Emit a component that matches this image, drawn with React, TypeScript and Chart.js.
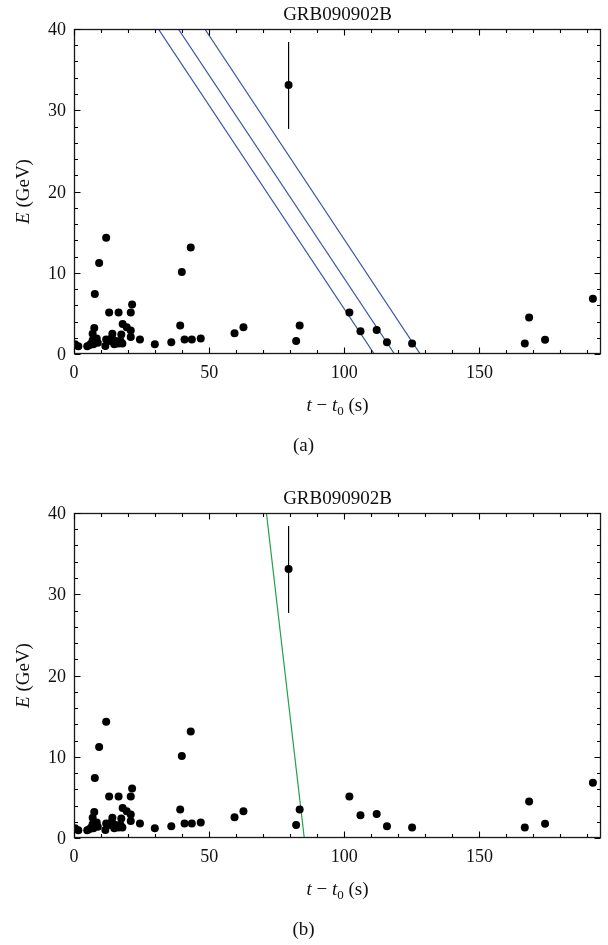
import React, { useEffect, useRef } from "react";
import { Chart, registerables } from "chart.js";
Chart.register(...registerables);

const TITLE = "GRB090902B";

// photon arrival times (s) and energies (GeV)
const photonTimes = [
  0.4, 1.6, 4.9, 5.8, 6.4, 6.9, 6.9, 7.5, 7.7, 7.2, 8.0, 8.4, 8.8, 9.3,
  11.6, 11.9, 11.9, 13.0, 13.5, 14.0, 14.2, 14.9, 15.5, 16.5, 16.5, 17.2,
  17.5, 17.9, 18.0, 19.5, 21.0, 21.0, 21.0, 21.5, 24.4, 29.9, 36.0, 39.3,
  39.9, 40.9, 43.2, 43.6, 46.9, 59.4, 62.7, 79.4, 82.2, 83.5, 101.9, 106.0,
  112.0, 115.8, 125.1, 166.8, 168.4, 174.3, 192.0,
];
const photonEnergies = [
  1.2, 0.95, 0.95, 1.1, 1.3, 1.7, 2.5, 3.2, 7.4, 1.2, 1.5, 1.9, 1.4, 11.2,
  1.0, 14.3, 1.8, 5.1, 1.6, 2.0, 2.5, 1.2, 1.6, 5.1, 1.3, 1.6, 2.4, 1.3, 3.7,
  3.3, 2.9, 2.1, 5.1, 6.1, 1.8, 1.2, 1.45, 3.5, 10.1, 1.8, 13.1, 1.8, 1.9,
  2.55, 3.3, 33.1, 1.6, 3.5, 5.1, 2.8, 2.95, 1.45, 1.3, 1.3, 4.5, 1.75, 6.8,
];

// error bar on the highest-energy photon
const errTimes = [79.4];
const errLow = [27.7];
const errHigh = [38.4];

// panel (a) lines
const lineA1Times = [31.2, 111.1];
const lineA2Times = [38.6, 118.6];
const lineA3Times = [48.4, 128.1];
const lineEnergies = [40, 0];
// panel (b) line
const lineBTimes = [71.2, 85.2];

const xTicks = [0, 50, 100, 150];
const xMinorTicks = [10, 20, 30, 40, 60, 70, 80, 90, 110, 120, 130, 140, 160, 170, 180, 190];
const yTicks = [0, 10, 20, 30, 40];
const yMinorTicks = [2, 4, 6, 8, 12, 14, 16, 18, 22, 24, 26, 28, 32, 34, 36, 38];

const X_MIN = 0;
const X_MAX = 195;
const Y_MIN = 0;
const Y_MAX = 40;

const SERIF = '"Liberation Serif", "DejaVu Serif", serif';
const BLUE = "#3553a8";
const GREEN = "#23a04a";

type Seg = { text: string; font: string; dy?: number };

function drawSegs(ctx: CanvasRenderingContext2D, segs: Seg[], cx: number, y: number) {
  let total = 0;
  const widths: number[] = [];
  for (const s of segs) {
    ctx.font = s.font;
    const w = ctx.measureText(s.text).width;
    widths.push(w);
    total += w;
  }
  let x = cx - total / 2;
  ctx.textAlign = "left";
  ctx.textBaseline = "alphabetic";
  segs.forEach((s, i) => {
    ctx.font = s.font;
    ctx.fillText(s.text, x, y + (s.dy || 0));
    x += widths[i];
  });
}

function makePlugin(caption: string) {
  return {
    id: "frameAndText" + caption,
    beforeDatasetsDraw(chart: any) {
      const ctx: CanvasRenderingContext2D = chart.ctx;
      const xs = chart.scales.x;
      const ys = chart.scales.y;
      ctx.save();
      ctx.strokeStyle = "#000";
      ctx.lineWidth = 1.2;
      errTimes.forEach((t, i) => {
        const px = xs.getPixelForValue(t);
        ctx.beginPath();
        ctx.moveTo(px, ys.getPixelForValue(errLow[i]));
        ctx.lineTo(px, ys.getPixelForValue(errHigh[i]));
        ctx.stroke();
      });
      ctx.restore();
    },
    afterDraw(chart: any) {
      const ctx: CanvasRenderingContext2D = chart.ctx;
      const xs = chart.scales.x;
      const ys = chart.scales.y;
      const a = chart.chartArea;
      const L = Math.round(a.left) + 0.5;
      const R = Math.round(a.right) - 0.5;
      const T = Math.round(a.top) + 0.5;
      const B = Math.round(a.bottom) - 0.5;
      ctx.save();
      ctx.strokeStyle = "#1a1a1a";
      ctx.lineWidth = 1.3;
      ctx.strokeRect(L, T, R - L, B - T);
      ctx.strokeStyle = "#000";
      ctx.lineWidth = 1.1;
      const tick = (vals: number[], len: number) => {
        vals.forEach((v) => {
          const px = Math.round(xs.getPixelForValue(v)) + 0.5;
          ctx.beginPath();
          ctx.moveTo(px, B);
          ctx.lineTo(px, B - len);
          ctx.moveTo(px, T);
          ctx.lineTo(px, T + len);
          ctx.stroke();
        });
      };
      const ytick = (vals: number[], len: number) => {
        vals.forEach((v) => {
          const py = Math.round(ys.getPixelForValue(v)) + 0.5;
          ctx.beginPath();
          ctx.moveTo(L, py);
          ctx.lineTo(L + len, py);
          ctx.moveTo(R, py);
          ctx.lineTo(R - len, py);
          ctx.stroke();
        });
      };
      tick(xTicks, 6);
      tick(xMinorTicks, 3.5);
      ytick(yTicks, 6);
      ytick(yMinorTicks, 3.5);

      ctx.fillStyle = "#111";
      ctx.font = `18px ${SERIF}`;
      ctx.textAlign = "center";
      ctx.textBaseline = "alphabetic";
      xTicks.forEach((v) => {
        ctx.fillText(String(v), xs.getPixelForValue(v), a.bottom + 24);
      });
      ctx.textAlign = "right";
      yTicks.forEach((v) => {
        ctx.fillText(String(v), a.left - 8, ys.getPixelForValue(v) + 6);
      });

      // title
      ctx.textAlign = "center";
      ctx.font = `19px ${SERIF}`;
      ctx.fillText(TITLE, (a.left + a.right) / 2, a.top - 9);

      // x axis title
      drawSegs(
        ctx,
        [
          { text: "t", font: `italic 19px ${SERIF}` },
          { text: " \u2212 ", font: `19px ${SERIF}` },
          { text: "t", font: `italic 19px ${SERIF}` },
          { text: "0", font: `13px ${SERIF}`, dy: 4 },
          { text: " (s)", font: `19px ${SERIF}` },
        ],
        (a.left + a.right) / 2,
        a.bottom + 57
      );

      // y axis title
      ctx.save();
      ctx.translate(29, (a.top + a.bottom) / 2);
      ctx.rotate(-Math.PI / 2);
      drawSegs(
        ctx,
        [
          { text: "E", font: `italic 19px ${SERIF}` },
          { text: " (GeV)", font: `19px ${SERIF}` },
        ],
        0,
        0
      );
      ctx.restore();

      // caption
      ctx.textAlign = "center";
      ctx.font = `19px ${SERIF}`;
      ctx.fillText(caption, 303.5, a.bottom + 97);
      ctx.restore();
    },
  };
}

function lineDataset(times: number[], color: string) {
  return {
    type: "line" as const,
    data: times.map((t, i) => ({ x: t, y: lineEnergies[i] })),
    borderColor: color,
    borderWidth: 1.2,
    pointRadius: 0,
    showLine: true,
    fill: false,
    tension: 0,
  };
}

function Panel({ top, caption, lines }: { top: number; caption: string; lines: { times: number[]; color: string }[] }) {
  const ref = useRef<HTMLCanvasElement | null>(null);
  useEffect(() => {
    if (!ref.current) return;
    const datasets: any[] = [
      {
        type: "scatter",
        data: photonTimes.map((t, i) => ({ x: t, y: photonEnergies[i] })),
        backgroundColor: "#000",
        borderWidth: 0,
        pointRadius: 4,
        pointHoverRadius: 4,
      },
      ...lines.map((l) => lineDataset(l.times, l.color)),
    ];
    const chart = new Chart(ref.current, {
      type: "scatter",
      data: { datasets },
      options: {
        responsive: false,
        animation: false,
        events: [],
        layout: { padding: { left: 74, top: 29, right: 7, bottom: 130 } },
        plugins: { legend: { display: false }, tooltip: { enabled: false }, title: { display: false } },
        scales: {
          x: { type: "linear", min: X_MIN, max: X_MAX, display: false },
          y: { type: "linear", min: Y_MIN, max: Y_MAX, display: false },
        },
      },
      plugins: [makePlugin(caption)],
    } as any);
    return () => chart.destroy();
  }, []);
  return (
    <canvas
      ref={ref}
      width={608}
      height={484}
      style={{ position: "absolute", left: 0, top, width: 608, height: 484 }}
    />
  );
}

export default function App() {
  return (
    <div style={{ position: "absolute", left: 0, top: 0, width: 608, height: 945, overflow: "hidden", background: "#fff" }}>
      <Panel
        top={0}
        caption="(a)"
        lines={[
          { times: lineA1Times, color: BLUE },
          { times: lineA2Times, color: BLUE },
          { times: lineA3Times, color: BLUE },
        ]}
      />
      <Panel top={484} caption="(b)" lines={[{ times: lineBTimes, color: GREEN }]} />
    </div>
  );
}
